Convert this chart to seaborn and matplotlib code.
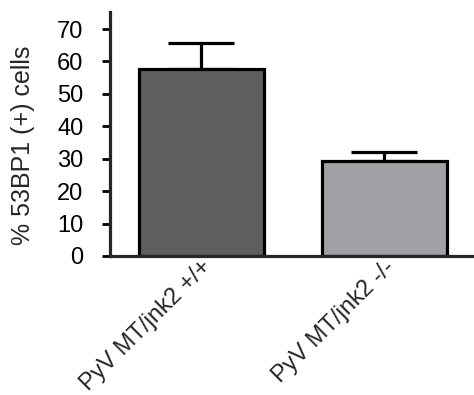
import matplotlib
matplotlib.use("Agg")
import matplotlib.pyplot as plt
import matplotlib.transforms as mtransforms
import seaborn as sns
import pandas as pd
import numpy as np

categories = ["PyV MT/jnk2 +/+", "PyV MT/jnk2 -/-"]
values = [57.6, 29.4]
errors = [8.0, 2.8]
colors = ["#5e5e5e", "#a1a1a5"]

sns.set_style("ticks")
plt.rcParams['font.family'] = ['Liberation Sans', 'DejaVu Sans']

fig = plt.figure(figsize=(4.74, 3.95), dpi=100)
ax = fig.add_axes([0.232, 0.352, 0.768, 0.618])

df = pd.DataFrame({"cat": categories, "val": values})
sns.barplot(data=df, x="cat", y="val", hue="cat", palette=colors, legend=False,
            width=0.685, edgecolor="black", linewidth=2.3, ax=ax, errorbar=None,
            saturation=1)

x = np.arange(len(categories))
ax.errorbar(x, values, yerr=[np.zeros(len(values)), errors], fmt="none",
            ecolor="black", elinewidth=2.3, capsize=24, capthick=2.3, zorder=0.5)

ax.set_ylim(0, 75.3)
ax.set_xlim(-0.5, 1.49)
ax.set_yticks(range(0, 71, 10))
ax.tick_params(axis="y", labelsize=17, width=2, length=6, direction="out", pad=13, colors="black")
ax.tick_params(axis="x", length=0, labelsize=17, pad=5)
ax.set_xlabel("")
ax.set_ylabel("% 53BP1 (+) cells", fontsize=18)
ax.yaxis.set_label_coords(-0.206, 0.455)
offset = mtransforms.ScaledTranslation(-1 / 100, 7 / 100, fig.dpi_scale_trans)
for lab in ax.get_xticklabels():
    lab.set_rotation(45)
    lab.set_ha("right")
    lab.set_va("top")
    lab.set_rotation_mode("anchor")
    lab.set_transform(lab.get_transform() + offset)

sns.despine(ax=ax, right=True, top=True)
ax.spines["left"].set_linewidth(2.3)
ax.spines["bottom"].set_linewidth(2.3)

fig.savefig("out.png", dpi=100)
